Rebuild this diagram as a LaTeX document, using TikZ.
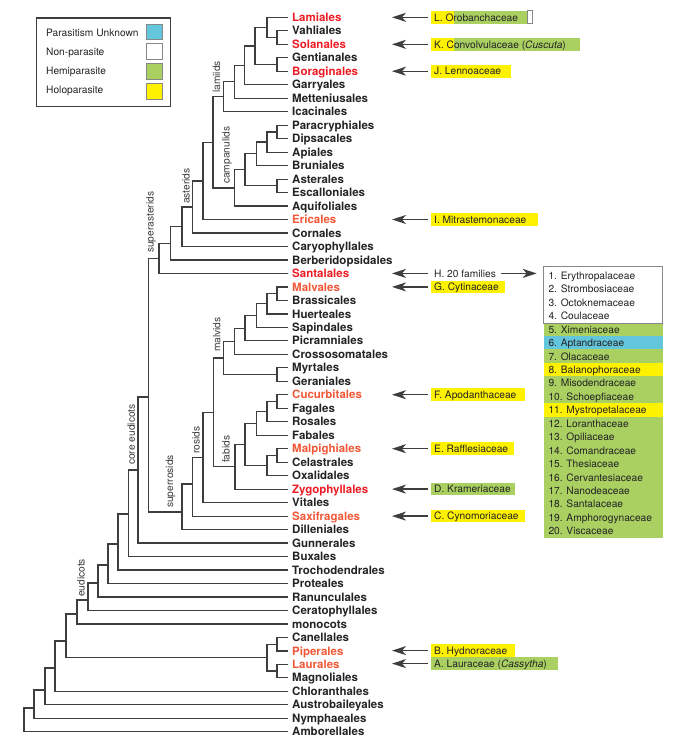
\documentclass[tikz,border=0pt]{standalone}
\usepackage{fontspec}
\setmainfont{TeX Gyre Heros}
\usetikzlibrary{arrows.meta}
\definecolor{treec}{RGB}{62,62,62}
\definecolor{tipc}{RGB}{35,35,35}
\definecolor{redA}{RGB}{237,28,36}
\definecolor{redB}{RGB}{242,88,55}
\definecolor{labc}{RGB}{60,60,60}
\definecolor{yel}{RGB}{255,242,0}
\definecolor{grn}{RGB}{170,208,98}
\definecolor{blu}{RGB}{100,198,220}
\definecolor{boxc}{RGB}{135,135,135}
\begin{document}
\begin{tikzpicture}[x=1pt,y=-1pt,
  br/.style={draw=treec, line width=1.2pt},
  tip/.style={anchor=west, inner xsep=4.5pt, inner ysep=0pt, text height=8.3pt, text depth=0pt,
    font=\fontsize{11.5}{12}\selectfont\bfseries, text=tipc},
  tipA/.style={tip, text=redA},
  tipB/.style={tip, text=redB},
  clade/.style={rotate=90, anchor=west, inner sep=0pt, font=\fontsize{10.2}{11}\selectfont, text=labc},
  fam/.style={anchor=west, inner xsep=3pt, inner ysep=0pt, minimum height=12.7pt, text height=7.4pt,
    text depth=0pt, font=\fontsize{10.2}{11}\selectfont, text=tipc},
  famrow/.style={anchor=west, inner xsep=5pt, inner ysep=0pt, minimum height=13.8pt, text height=7.4pt,
    text depth=0pt, font=\fontsize{10.2}{11}\selectfont, text=tipc},
  legt/.style={anchor=west, inner sep=0pt, text height=7.3pt, text depth=0pt,
    font=\fontsize{10.2}{11}\selectfont, text=tipc},
  swatch/.style={draw=boxc, line width=0.8pt, minimum width=16.3pt, minimum height=15.5pt, inner sep=0pt},
  arr/.style={draw=treec, line width=1.3pt, -{Stealth[length=14pt,width=9pt,inset=4pt]}},
]
\useasboundingbox (0,0) rectangle (689,753);

% ---------- tips ----------
\node[tipA] (Lamiales) at (287.5,17.3) {Lamiales};
\node[tip]  (Vahliales) at (287.5,30.8) {Vahliales};
\node[tipA] (Solanales) at (287.5,44.3) {Solanales};
\node[tip]  (Gentianales) at (287.5,57.7) {Gentianales};
\node[tipA] (Boraginales) at (287.5,71.2) {Boraginales};
\node[tip]  (Garryales) at (287.5,84.7) {Garryales};
\node[tip]  (Metteniusales) at (287.5,98.2) {Metteniusales};
\node[tip]  (Icacinales) at (287.5,111.7) {Icacinales};
\node[tip]  (Paracryphiales) at (287.5,125.1) {Paracryphiales};
\node[tip]  (Dipsacales) at (287.5,138.6) {Dipsacales};
\node[tip]  (Apiales) at (287.5,152.1) {Apiales};
\node[tip]  (Bruniales) at (287.5,165.6) {Bruniales};
\node[tip]  (Asterales) at (287.5,179.1) {Asterales};
\node[tip]  (Escalloniales) at (287.5,192.5) {Escalloniales};
\node[tip]  (Aquifoliales) at (287.5,206.0) {Aquifoliales};
\node[tipB] (Ericales) at (287.5,219.5) {Ericales};
\node[tip]  (Cornales) at (287.5,233.0) {Cornales};
\node[tip]  (Caryophyllales) at (287.5,246.5) {Caryophyllales};
\node[tip]  (Berberidopsidales) at (287.5,259.9) {Berberidopsidales};
\node[tipA] (Santalales) at (287.5,273.4) {Santalales};
\node[tipB] (Malvales) at (287.5,286.9) {Malvales};
\node[tip]  (Brassicales) at (287.5,300.4) {Brassicales};
\node[tip]  (Huerteales) at (287.5,313.9) {Huerteales};
\node[tip]  (Sapindales) at (287.5,327.3) {Sapindales};
\node[tip]  (Picramniales) at (287.5,340.8) {Picramniales};
\node[tip]  (Crossosomatales) at (287.5,354.3) {Crossosomatales};
\node[tip]  (Myrtales) at (287.5,367.8) {Myrtales};
\node[tip]  (Geraniales) at (287.5,381.3) {Geraniales};
\node[tipB] (Cucurbitales) at (287.5,394.7) {Cucurbitales};
\node[tip]  (Fagales) at (287.5,408.2) {Fagales};
\node[tip]  (Rosales) at (287.5,421.7) {Rosales};
\node[tip]  (Fabales) at (287.5,435.2) {Fabales};
\node[tipB] (Malpighiales) at (287.5,448.7) {Malpighiales};
\node[tip]  (Celastrales) at (287.5,462.1) {Celastrales};
\node[tip]  (Oxalidales) at (287.5,475.6) {Oxalidales};
\node[tipA] (Zygophyllales) at (287.5,489.1) {Zygophyllales};
\node[tip]  (Vitales) at (287.5,502.6) {Vitales};
\node[tipB] (Saxifragales) at (287.5,516.1) {Saxifragales};
\node[tip]  (Dilleniales) at (287.5,529.5) {Dilleniales};
\node[tip]  (Gunnerales) at (287.5,543.0) {Gunnerales};
\node[tip]  (Buxales) at (287.5,556.5) {Buxales};
\node[tip]  (Trochodendrales) at (287.5,570.0) {Trochodendrales};
\node[tip]  (Proteales) at (287.5,583.5) {Proteales};
\node[tip]  (Ranunculales) at (287.5,596.9) {Ranunculales};
\node[tip]  (Ceratophyllales) at (287.5,610.4) {Ceratophyllales};
\node[tip]  (monocots) at (287.5,623.9) {monocots};
\node[tip]  (Canellales) at (287.5,637.4) {Canellales};
\node[tipB] (Piperales) at (287.5,650.9) {Piperales};
\node[tipB] (Laurales) at (287.5,664.3) {Laurales};
\node[tip]  (Magnoliales) at (287.5,677.8) {Magnoliales};
\node[tip]  (Chloranthales) at (287.5,691.3) {Chloranthales};
\node[tip]  (Austrobaileyales) at (287.5,704.8) {Austrobaileyales};
\node[tip]  (Nymphaeales) at (287.5,718.3) {Nymphaeales};
\node[tip]  (Amborellales) at (287.5,731.7) {Amborellales};

% ---------- internal nodes ----------
\coordinate (nVS) at (277,37.6);
\coordinate (nLVS) at (267,27.4);
\coordinate (nGB) at (277,64.5);
\coordinate (nL4) at (255,45.9);
\coordinate (nL5) at (244.5,65.3);
\coordinate (nL6) at (234.5,81.8);
\coordinate (nLam) at (223.5,96.7);
\coordinate (nPD) at (277,131.9);
\coordinate (nPDA) at (267,142.0);
\coordinate (nPDAB) at (256.5,153.8);
\coordinate (nAE) at (277,185.8);
\coordinate (nC5) at (245,169.8);
\coordinate (nCam) at (234.5,187.9);
\coordinate (nLC) at (213,142.3);
\coordinate (nEri) at (203,180.9);
\coordinate (nAst) at (192.5,207.0);
\coordinate (nCar) at (182,226.7);
\coordinate (nBer) at (170.5,243.3);
\coordinate (nSA) at (159,258.4);
\coordinate (nMB) at (277,293.6);
\coordinate (nMBH) at (267,303.8);
\coordinate (nMS) at (256.5,315.5);
\coordinate (nMP) at (245,328.2);
\coordinate (nMC) at (234.5,341.2);
\coordinate (nMG) at (277,374.5);
\coordinate (nMal) at (223.5,357.9);
\coordinate (nCF) at (277,401.5);
\coordinate (nCFR) at (267,411.6);
\coordinate (nCFRF) at (256.5,423.4);
\coordinate (nMCe) at (277,455.4);
\coordinate (nMCO) at (267,465.5);
\coordinate (nCOM) at (245,444.5);
\coordinate (nFab) at (235,466.8);
\coordinate (nMF) at (213.3,412.4);
\coordinate (nRos) at (203,457.5);
\coordinate (nSax) at (192.5,484.0);
\coordinate (nSR) at (182,512.0);
\coordinate (nSS) at (148.3,397.0);
\coordinate (nCore) at (138,470.0);
\coordinate (nBux) at (128.3,514.0);
\coordinate (nTro) at (118,544.0);
\coordinate (nPro) at (108,565.0);
\coordinate (nRan) at (98,583.0);
\coordinate (nEud) at (88,600.0);
\coordinate (nMono) at (77,614.0);
\coordinate (nCP) at (277,644.2);
\coordinate (nLM) at (277,671.0);
\coordinate (nMag) at (267,657.6);
\coordinate (nMM) at (66,641.0);
\coordinate (nChl) at (55,668.0);
\coordinate (nAus) at (45,690.0);
\coordinate (nNym) at (34,708.0);
\coordinate (nRoot) at (24,720.0);

% ---------- branches ----------
\foreach \p/\a/\b in {
  nVS/Vahliales.west/Solanales.west, nLVS/Lamiales.west/nVS, nGB/Gentianales.west/Boraginales.west,
  nL4/nLVS/nGB, nL5/nL4/Garryales.west, nL6/nL5/Metteniusales.west, nLam/nL6/Icacinales.west,
  nPD/Paracryphiales.west/Dipsacales.west, nPDA/nPD/Apiales.west, nPDAB/nPDA/Bruniales.west,
  nAE/Asterales.west/Escalloniales.west, nC5/nPDAB/nAE, nCam/nC5/Aquifoliales.west,
  nLC/nLam/nCam, nEri/nLC/Ericales.west, nAst/nEri/Cornales.west, nCar/nAst/Caryophyllales.west,
  nBer/nCar/Berberidopsidales.west, nSA/nBer/Santalales.west,
  nMB/Malvales.west/Brassicales.west, nMBH/nMB/Huerteales.west, nMS/nMBH/Sapindales.west,
  nMP/nMS/Picramniales.west, nMC/nMP/Crossosomatales.west, nMG/Myrtales.west/Geraniales.west,
  nMal/nMC/nMG, nCF/Cucurbitales.west/Fagales.west, nCFR/nCF/Rosales.west, nCFRF/nCFR/Fabales.west,
  nMCe/Malpighiales.west/Celastrales.west, nMCO/nMCe/Oxalidales.west, nCOM/nCFRF/nMCO,
  nFab/nCOM/Zygophyllales.west, nMF/nMal/nFab, nRos/nMF/Vitales.west, nSax/nRos/Saxifragales.west,
  nSR/nSax/Dilleniales.west, nSS/nSA/nSR, nCore/nSS/Gunnerales.west, nBux/nCore/Buxales.west,
  nTro/nBux/Trochodendrales.west, nPro/nTro/Proteales.west, nRan/nPro/Ranunculales.west,
  nEud/nRan/Ceratophyllales.west, nMono/nEud/monocots.west,
  nCP/Canellales.west/Piperales.west, nLM/Laurales.west/Magnoliales.west, nMag/nCP/nLM,
  nMM/nMono/nMag, nChl/nMM/Chloranthales.west, nAus/nChl/Austrobaileyales.west,
  nNym/nAus/Nymphaeales.west, nRoot/nNym/Amborellales.west}
  \draw[br] (\a) -| (\p) |- (\b);

% ---------- clade labels ----------
\node[clade] (lblLam) at (216.5,93) {lamiids};
\node[clade] (lblCam) at (227,184) {campanulids};
\node[clade] (lblAst) at (186,204) {asterids};
\node[clade] (lblSA) at (151,253) {superasterids};
\node[clade] (lblMal) at (216.7,352) {malvids};
\node[clade] (lblFab) at (226,463) {fabids};
\node[clade] (lblRos) at (196,454) {rosids};
\node[clade] (lblSR) at (170.5,508) {superrosids};
\node[clade] (lblCore) at (131.3,465) {core eudicots};
\node[clade] (lblEud) at (81,597) {eudicots};

% ---------- legend ----------
\node[draw=treec, line width=1.2pt, minimum width=134pt, minimum height=88.7pt, inner sep=0pt,
  anchor=north west] (legend) at (36,17.3) {};
\node[legt] (lg1) at (46,33.0) {Parasitism Unknown};
\node[legt] (lg2) at (46,51.5) {Non-parasite};
\node[legt] (lg3) at (46,70.5) {Hemiparasite};
\node[legt] (lg4) at (46,89.5) {Holoparasite};
\node[swatch, fill=blu] (sw1) at (154.2,31.8) {};
\node[swatch, fill=white] (sw2) at (154.2,51.4) {};
\node[swatch, fill=grn] (sw3) at (154.2,71.2) {};
\node[swatch, fill=yel] (sw4) at (154.2,91.2) {};

% ---------- family boxes ----------
\coordinate (arrx) at (392,0);
\node[fam, fill=grn, path picture={\fill[yel] (path picture bounding box.south west) rectangle ([xshift=22.3pt]path picture bounding box.north west);}]
  (famL) at (431,17.3) {\makebox[90pt][l]{L. Orobanchaceae}};
\node[draw=boxc, fill=white, line width=0.8pt, minimum width=5pt, minimum height=13pt, inner sep=0pt, anchor=west]
  (famLw) at (famL.east) {};
\node[fam, fill=grn, path picture={\fill[yel] (path picture bounding box.south west) rectangle ([xshift=22.3pt]path picture bounding box.north west);}]
  (famK) at (431,44.3) {\makebox[142.3pt][l]{K. Convolvulaceae (\textit{Cuscuta})}};
\node[fam, fill=yel] (famJ) at (431,71.2) {\makebox[73.7pt][l]{J. Lennoaceae}};
\node[fam, fill=yel] (famI) at (431,219.5) {\makebox[100.7pt][l]{I. Mitrastemonaceae}};
\node[fam] (famH) at (431,273.4) {H. 20 families};
\node[fam, fill=yel] (famG) at (431,286.9) {\makebox[68pt][l]{G. Cytinaceae}};
\node[fam, fill=yel] (famF) at (431,394.7) {\makebox[87.3pt][l]{F. Apodanthaceae}};
\node[fam, fill=yel] (famE) at (431,448.7) {\makebox[77pt][l]{E. Rafflesiaceae}};
\node[fam, fill=grn] (famD) at (431,489.1) {\makebox[78pt][l]{D. Krameriaceae}};
\node[fam, fill=yel] (famC) at (431,516.1) {\makebox[88pt][l]{C. Cynomoriaceae}};
\node[fam, fill=yel] (famB) at (431,650.6) {\makebox[77.3pt][l]{B. Hydnoraceae}};
\node[fam, fill=grn] (famA) at (431,663.6) {\makebox[120.7pt][l]{A. Lauraceae (\textit{Cassytha})}};

\foreach \f in {famL,famK,famJ,famI,famH,famG,famF,famE,famD,famC,famB,famA}
  \draw[arr] ([xshift=-3pt]\f.west) -- (arrx |- \f.west);

% ---------- 20 families list ----------
\node[famrow, fill=white] (f1) at (543.3,275.7) {\makebox[109pt][l]{1. Erythropalaceae}};
\node[famrow, fill=white] (f2) at (543.3,289.1) {\makebox[109pt][l]{2. Strombosiaceae}};
\node[famrow, fill=white] (f3) at (543.3,302.6) {\makebox[109pt][l]{3. Octoknemaceae}};
\node[famrow, fill=white] (f4) at (543.3,316.0) {\makebox[109pt][l]{4. Coulaceae}};
\node[famrow, fill=grn] (f5) at (543.3,329.5) {\makebox[109pt][l]{5. Ximeniaceae}};
\node[famrow, fill=blu] (f6) at (543.3,342.9) {\makebox[109pt][l]{6. Aptandraceae}};
\node[famrow, fill=grn] (f7) at (543.3,356.3) {\makebox[109pt][l]{7. Olacaceae}};
\node[famrow, fill=yel] (f8) at (543.3,369.8) {\makebox[109pt][l]{8. Balanophoraceae}};
\node[famrow, fill=grn] (f9) at (543.3,383.2) {\makebox[109pt][l]{9. Misodendraceae}};
\node[famrow, fill=grn] (f10) at (543.3,396.7) {\makebox[109pt][l]{10. Schoepfiaceae}};
\node[famrow, fill=yel] (f11) at (543.3,410.1) {\makebox[109pt][l]{11. Mystropetalaceae}};
\node[famrow, fill=grn] (f12) at (543.3,423.5) {\makebox[109pt][l]{12. Loranthaceae}};
\node[famrow, fill=grn] (f13) at (543.3,437.0) {\makebox[109pt][l]{13. Opiliaceae}};
\node[famrow, fill=grn] (f14) at (543.3,450.4) {\makebox[109pt][l]{14. Comandraceae}};
\node[famrow, fill=grn] (f15) at (543.3,463.9) {\makebox[109pt][l]{15. Thesiaceae}};
\node[famrow, fill=grn] (f16) at (543.3,477.3) {\makebox[109pt][l]{16. Cervantesiaceae}};
\node[famrow, fill=grn] (f17) at (543.3,490.7) {\makebox[109pt][l]{17. Nanodeaceae}};
\node[famrow, fill=grn] (f18) at (543.3,504.2) {\makebox[109pt][l]{18. Santalaceae}};
\node[famrow, fill=grn] (f19) at (543.3,517.6) {\makebox[109pt][l]{19. Amphorogynaceae}};
\node[famrow, fill=grn] (f20) at (543.3,531.1) {\makebox[109pt][l]{20. Viscaceae}};
\draw[draw=boxc, line width=0.8pt] ([yshift=2.3pt]f1.north west) rectangle (f4.south east);

\coordinate (hR) at (536.7,273.4);
\draw[arr] ([xshift=2pt]famH.east) -- (hR);
\end{tikzpicture}
\end{document}
